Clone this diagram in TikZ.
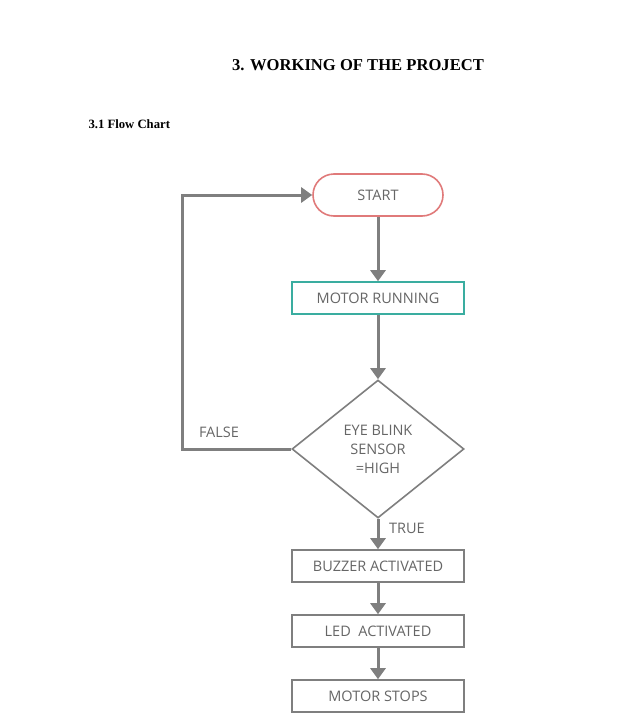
\documentclass[tikz,border=0pt]{standalone}
\usepackage{fontspec}
\setmainfont{Liberation Serif}
\newfontfamily\chartfont{Open Sans}
\usepackage{tikz}
\usetikzlibrary{arrows,arrows.meta,shapes.geometric,positioning}
\definecolor{linegray}{HTML}{7F7F7F}
\definecolor{textgray}{HTML}{666666}
\definecolor{startred}{HTML}{E07A7A}
\definecolor{motorteal}{HTML}{3AADA0}

\begin{document}
\begin{tikzpicture}[x=1pt,y=-1pt,
    box/.style={draw=linegray,line width=1.6pt,fill=white,minimum width=172pt,minimum height=32pt,
      inner sep=0pt,font=\chartfont\fontsize{14.5}{17}\selectfont,text=textgray},
    flow/.style={draw=linegray,line width=3pt,-{Triangle[width=15pt,length=11pt]}},
    lbl/.style={font=\chartfont\fontsize{14.5}{17}\selectfont,text=textgray}]
	\useasboundingbox (0,0) rectangle (637,725);
	% headings
	\node[font=\bfseries\fontsize{16.6}{20}\selectfont] (title) at (358,65) {3. WORKING OF THE PROJECT};
	\node[font=\bfseries\fontsize{12.7}{15}\selectfont,anchor=west] (sub) at (85,124) {3.1 Flow Chart};
	% chart
	\node[box,draw=startred,rounded corners=21pt,minimum width=130pt,minimum height=42pt] (start) at (378,195) {START};
	\node[box,draw=motorteal] (motor) at (378,298) {MOTOR RUNNING};
	\node[box,diamond,minimum width=172pt,minimum height=138pt,align=center,
	      font=\chartfont\fontsize{14.5}{19}\selectfont] (sensor) at (378,449) {EYE BLINK\\SENSOR\\=HIGH};
	\node[box] (buzzer) at (378,566) {BUZZER ACTIVATED};
	\node[box] (led) at (378,631) {LED\ \ ACTIVATED};
	\node[box] (stop) at (378,696) {MOTOR STOPS};
	\coordinate (back) at (182,300);
	\draw[flow] (start) -- (motor);
	\draw[flow] (motor) -- (sensor);
	\draw[flow] (sensor) -- (buzzer);
	\draw[flow] (buzzer) -- (led);
	\draw[flow] (led) -- (stop);
	\draw[flow] (sensor.west) -| (back) |- (start.west);
	\node[lbl] (false) at (219,432) {FALSE};
	\node[lbl] (true) at (407,528) {TRUE};
\end{tikzpicture}
\end{document}
